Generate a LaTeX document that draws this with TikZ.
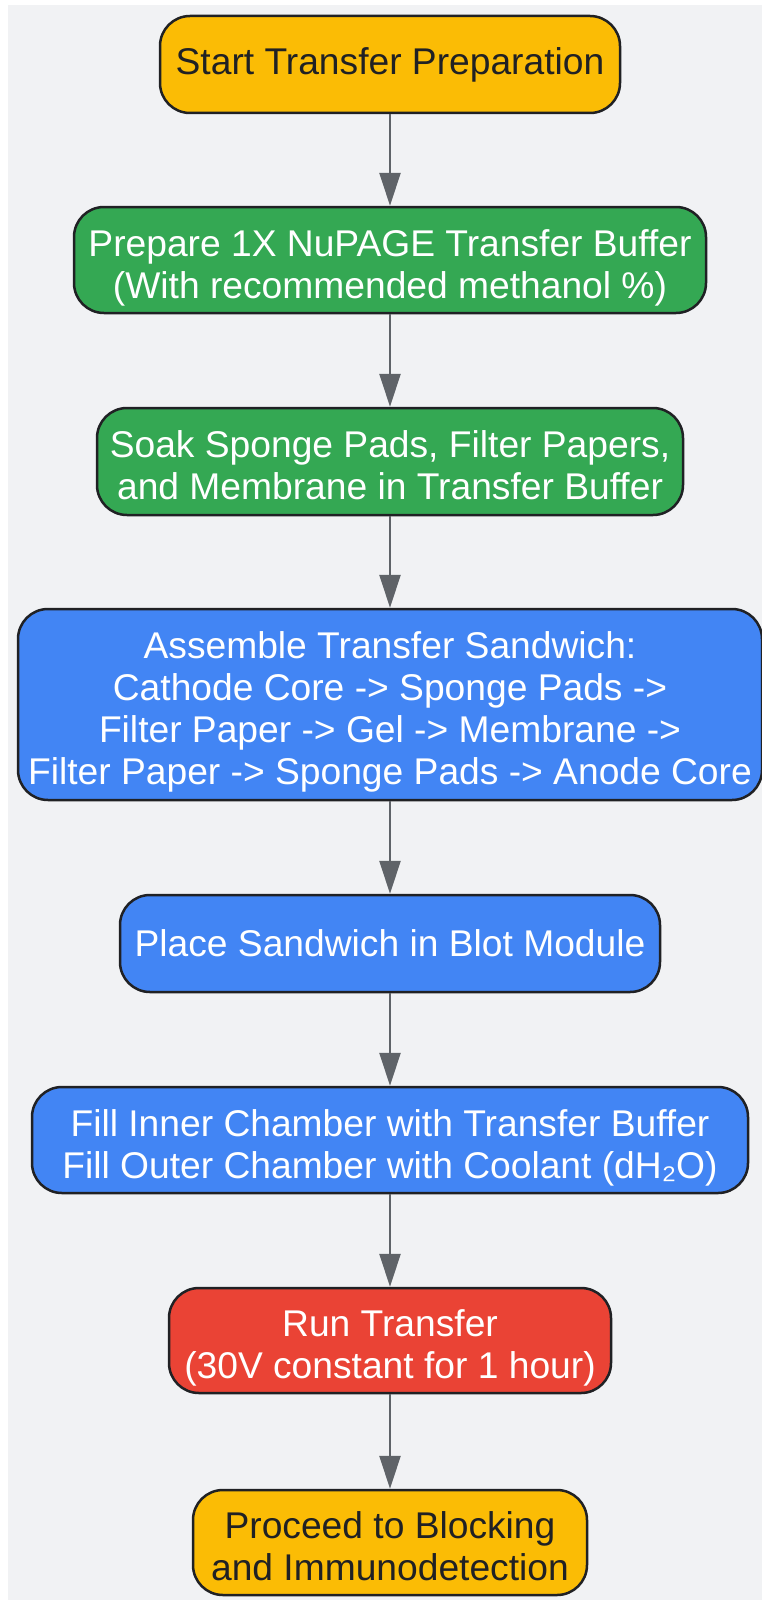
\documentclass[tikz,border=0pt]{standalone}
\usepackage{fontspec}
\setmainfont{Liberation Sans}
\usepackage{tikz}
\usetikzlibrary{arrows.meta}

\definecolor{bggray}{HTML}{F1F2F4}
\definecolor{stepyellow}{HTML}{FBBC05}
\definecolor{stepgreen}{HTML}{34A853}
\definecolor{stepblue}{HTML}{4285F4}
\definecolor{stepred}{HTML}{EA4335}
\definecolor{edgegray}{HTML}{5F6368}
\definecolor{inkdark}{HTML}{202124}
\newcommand{\firstline}{\rule{0pt}{42pt}}
\newcommand{\lastline}{\rule[-8pt]{0pt}{8pt}}

\begin{document}
\begin{tikzpicture}[x=1pt,y=-1pt,
    box/.style={draw=inkdark,line width=2.5pt,rounded corners=30pt,align=center,
        inner sep=0pt,font=\fontsize{37.2}{42}\selectfont},
    endbox/.style={box,fill=stepyellow,text=inkdark},
    greenbox/.style={box,fill=stepgreen,text=white},
    bluebox/.style={box,fill=stepblue,text=white},
    redbox/.style={box,fill=stepred,text=white},
    flow/.style={-{Triangle[length=33pt,width=21pt]},line width=2.7pt,draw=edgegray}]
            \useasboundingbox (0,0) rectangle (762,1600);
            \fill[bggray] (8,5) rectangle (762,1600);
            % steps
            \node[endbox,minimum width=460pt,minimum height=97pt] (start) at (390,64.5) {Start Transfer Preparation};
            \node[greenbox,minimum width=632pt,minimum height=106pt] (prep) at (390,260) {\firstline Prepare 1X NuPAGE Transfer Buffer\\(With recommended methanol \%)\lastline};
            \node[greenbox,minimum width=586pt,minimum height=107pt] (soak) at (390,461.5) {\firstline Soak Sponge Pads, Filter Papers,\\and Membrane in Transfer Buffer\lastline};
            \node[bluebox,minimum width=744pt,minimum height=191pt] (assemble) at (390,704.5) {\firstline Assemble Transfer Sandwich:\\Cathode Core -> Sponge Pads ->\\Filter Paper -> Gel -> Membrane ->\\Filter Paper -> Sponge Pads -> Anode Core\lastline};
            \node[bluebox,minimum width=540pt,minimum height=97pt] (place) at (390,943.5) {Place Sandwich in Blot Module};
            \node[bluebox,minimum width=716pt,minimum height=106pt] (fill) at (390,1140) {\firstline Fill Inner Chamber with Transfer Buffer\\Fill Outer Chamber with Coolant (dH₂O)\lastline};
            \node[redbox,minimum width=442pt,minimum height=105pt] (run) at (390,1340.5) {\firstline Run Transfer\\(30V constant for 1 hour)\lastline};
            \node[endbox,minimum width=394pt,minimum height=105pt] (proceed) at (390,1542.5) {\firstline Proceed to Blocking\\and Immunodetection\lastline};
            % arrows
            \draw[flow] (start) -- (prep);
            \draw[flow] (prep) -- (soak);
            \draw[flow] (soak) -- (assemble);
            \draw[flow] (assemble) -- (place);
            \draw[flow] (place) -- (fill);
            \draw[flow] (fill) -- (run);
            \draw[flow] (run) -- (proceed);
        \end{tikzpicture}
\end{document}
